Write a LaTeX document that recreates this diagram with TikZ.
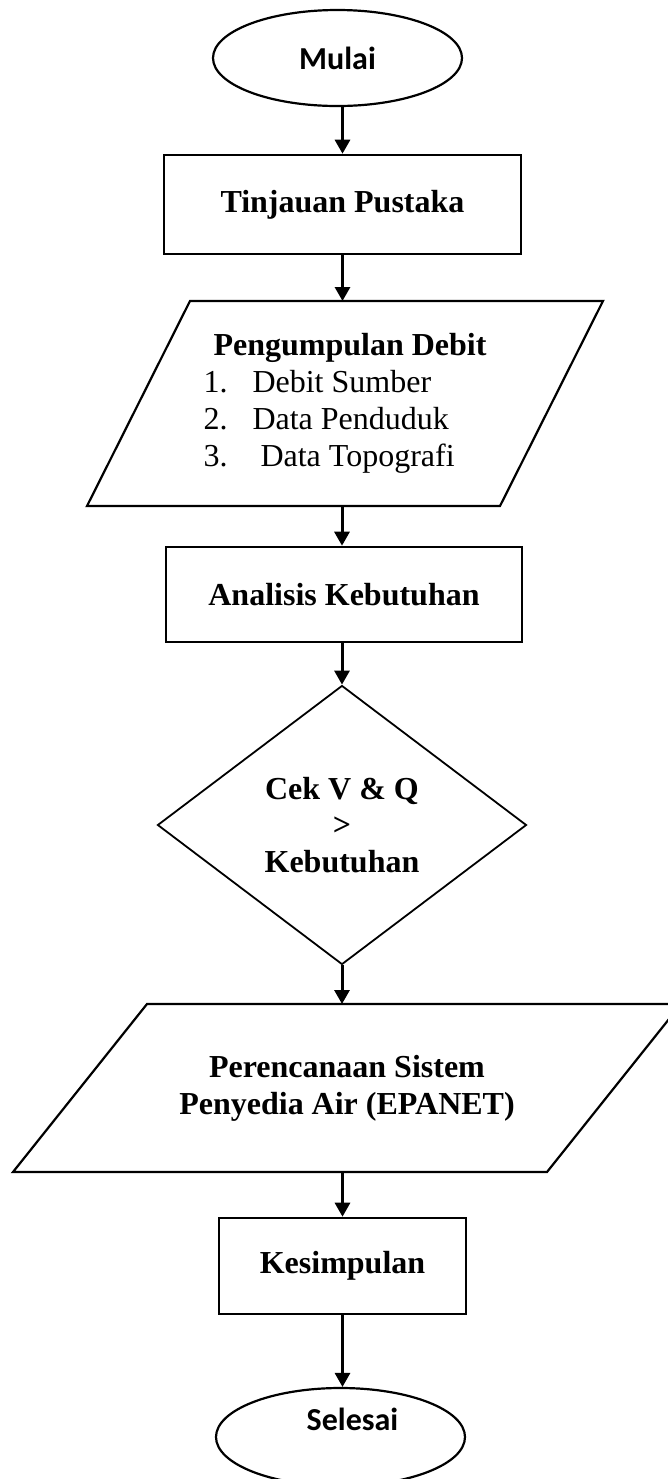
\documentclass[tikz,border=0pt]{standalone}
\usepackage{fontspec}
\setmainfont{Liberation Serif}
\newfontfamily\calibri{Carlito}
\usepackage{tikz}
\usetikzlibrary{shapes.geometric}
\usetikzlibrary{arrows.meta}

\begin{document}
\begin{tikzpicture}[x=1pt,y=1pt,
term/.style={ellipse,draw,line width=1.1pt,minimum width=124.5pt,font=\calibri\fontsize{16}{18.4}\selectfont\bfseries},
proc/.style={rectangle,draw,line width=1.3pt,font=\fontsize{16}{18.4}\selectfont\bfseries},
data/.style={rectangle,outer sep=0pt,font=\fontsize{16}{18.4}\selectfont},
pgram/.style={line width=1.1pt,line join=miter},
dec/.style={diamond,draw,line width=0.9pt,align=center,font=\fontsize{16}{18.4}\selectfont\bfseries},
arr/.style={line width=1.5pt,-{Triangle[width=7.5pt,length=7pt]}}]
\useasboundingbox (0,0) rectangle (334,-739.5);
\node[term,minimum height=48pt] (mulai) at (168.75,-29) {Mulai};
\node[proc,minimum width=178.5pt,minimum height=49.5pt] (tp) at (171.25,-102.25) {Tinjauan Pustaka};
\node[data,minimum width=206.5pt,minimum height=102.5pt,align=left] (pd) at (172.5,-201.75) {\textbf{\hspace*{5pt}Pengumpulan Debit}\\ \makebox[24.5pt][l]{1.}Debit Sumber\\ \makebox[24.5pt][l]{2.}Data Penduduk\\ \makebox[24.5pt][l]{3.}\ Data Topografi};
\draw[pgram] ([xshift=25.75pt]pd.north west) -- ([xshift=25.75pt]pd.north east) -- ([xshift=-25.75pt]pd.south east) -- ([xshift=-25.75pt]pd.south west) -- cycle;
\node[proc,minimum width=178pt,minimum height=47.5pt] (ak) at (172,-297.25) {Analisis Kebutuhan};
\node[dec,minimum width=184.5pt,minimum height=139.5pt] (cek) at (171,-412.5) {Cek V \& Q\\>\\Kebutuhan};
\node[data,minimum width=267pt,minimum height=84pt,align=center,font=\fontsize{16}{18.4}\selectfont\bfseries] (ps) at (173.5,-544) {Perencanaan Sistem\\Penyedia Air (EPANET)};
\draw[pgram] ([xshift=33.5pt]ps.north west) -- ([xshift=33.5pt]ps.north east) -- ([xshift=-33.5pt]ps.south east) -- ([xshift=-33.5pt]ps.south west) -- cycle;
\node[proc,minimum width=123.5pt,minimum height=48pt] (ks) at (171.25,-633) {Kesimpulan};
\node[term,minimum height=49pt,label={[font=\calibri\fontsize{16}{18.4}\selectfont\bfseries,xshift=6pt,yshift=9pt]center:Selesai}] (sl) at (170.25,-718.5) {};
%%% connectors %%%
\draw[arr] (mulai.south -| tp.north) -- (tp.north);
\draw[arr] (tp.south) -- (tp.south |- pd.north);
\draw[arr] (pd.south -| cek.north) -- (ak.north -| cek.north);
\draw[arr] (ak.south -| cek.north) -- (cek.north);
\draw[arr] (cek.south) -- (cek.south |- ps.north);
\draw[arr] (ps.south -| ks.north) -- (ks.north);
\draw[arr] (ks.south) -- (ks.south |- sl.north);
\end{tikzpicture}
\end{document}
